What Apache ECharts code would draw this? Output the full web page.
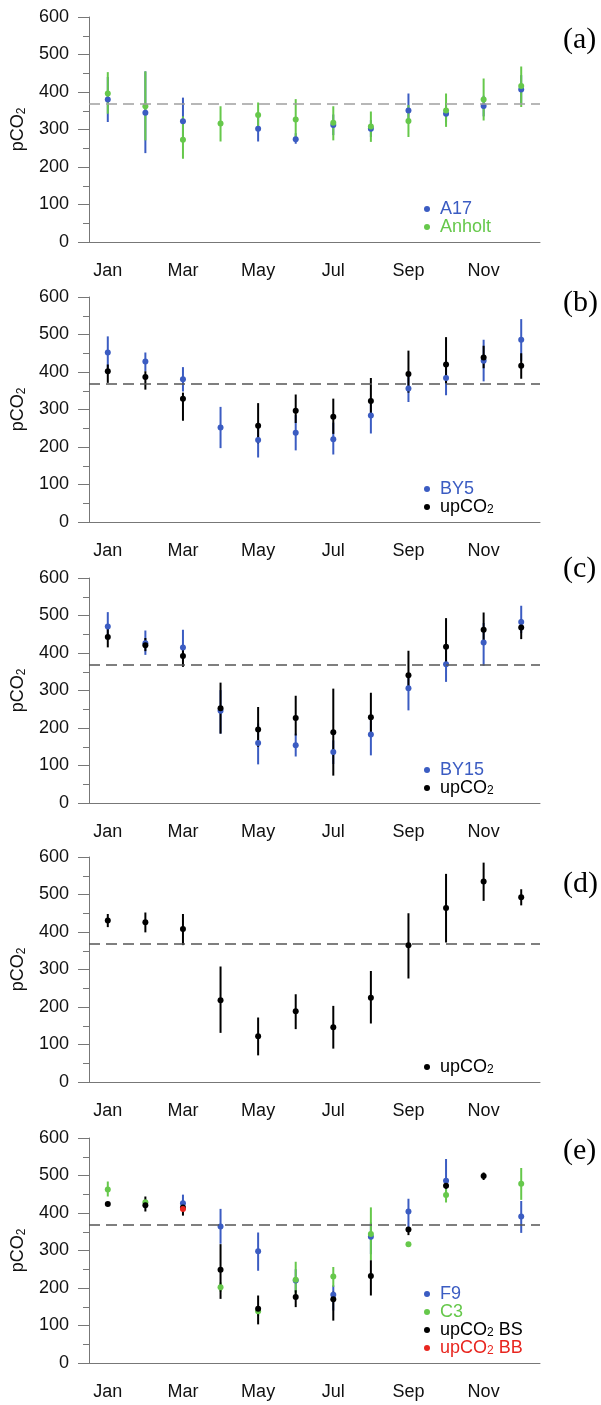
<!DOCTYPE html>
<html>
<head>
<meta charset="utf-8">
<script src="https://cdn.jsdelivr.net/npm/echarts@6/dist/echarts.min.js"></script>
<style>
html,body{margin:0;padding:0;background:#fff;}
#main{width:601px;height:1405px;}
</style>
</head>
<body>
<div id="main"></div>
<script>
var months=['Jan','Feb','Mar','Apr','May','Jun','Jul','Aug','Sep','Oct','Nov','Dec'];
var yTicks=[0,100,200,300,400,500,600];
var refLevel=370;
var panelLabels=['(a)','(b)','(c)','(d)','(e)'];

// (a)
var a17=[380,345,322,null,302,274,312,302,351,342,363,407];
var a17Lo=[320,237,270,null,268,262,285,280,315,318,335,370];
var a17Hi=[440,455,385,null,335,290,340,325,396,370,390,445];
var anholt=[396,362,273,316,339,327,318,308,323,351,380,416];
var anholtLo=[342,271,222,268,300,274,271,267,280,307,324,360];
var anholtHi=[453,455,335,362,372,381,362,348,365,396,436,468];

// (b)
var by5=[452,428,381,252,219,238,221,284,356,384,430,486];
var by5Lo=[410,402,348,197,172,191,180,236,320,338,375,430];
var by5Hi=[495,452,413,307,265,285,265,330,395,420,486,541];
var upB=[402,387,329,null,257,297,281,323,395,420,439,417];
var upBLo=[371,353,270,null,210,264,235,285,345,370,410,382];
var upBHi=[420,402,345,null,317,340,329,384,457,493,470,450];

// (c)
var by15=[471,426,415,246,160,154,136,183,306,370,428,483];
var by15Lo=[448,395,381,185,103,124,104,127,247,323,366,453];
var by15Hi=[509,460,462,301,212,185,167,230,340,410,480,526];
var upC=[443,421,392,253,196,227,189,229,341,417,462,468];
var upCLo=[415,405,363,185,150,180,73,180,300,370,430,437];
var upCHi=[470,440,420,321,256,286,305,294,406,493,508,490];

// (d)
var upD=[431,426,408,218,122,189,146,225,365,464,535,493];
var upDLo=[413,399,365,131,71,141,89,156,276,372,483,471];
var upDHi=[448,452,448,308,172,234,203,296,450,555,585,514];

// (e)
var f9=[null,null,426,364,298,220,182,337,404,486,null,391];
var f9Lo=[null,null,405,318,246,190,140,290,359,455,null,347];
var f9Hi=[null,null,449,411,348,250,207,375,438,544,null,432];
var c3=[463,429,null,202,138,222,231,344,317,448,null,478];
var c3Lo=[444,421,null,190,125,185,203,274,317,428,null,435];
var c3Hi=[484,435,null,215,150,270,256,415,317,465,null,520];
var bs=[424,421,415,249,145,176,170,232,356,473,499,null];
var bsLo=[424,404,393,171,103,149,113,180,341,465,488,null];
var bsHi=[424,444,432,317,180,194,190,274,363,481,508,null];
var bb=[null,null,411,null,null,null,null,null,null,null,null,null];
var bbLo=[null,null,411,null,null,null,null,null,null,null,null,null];
var bbHi=[null,null,411,null,null,null,null,null,null,null,null,null];

var BLUE='#3b5cc2',GREEN='#66c84b',BLACK='#000',RED='#e8261f';

var panels=[
  [{name:'A17',color:BLUE,v:a17,lo:a17Lo,hi:a17Hi},{name:'Anholt',color:GREEN,v:anholt,lo:anholtLo,hi:anholtHi}],
  [{name:'BY5',color:BLUE,v:by5,lo:by5Lo,hi:by5Hi},{name:'upCO2',color:BLACK,v:upB,lo:upBLo,hi:upBHi}],
  [{name:'BY15',color:BLUE,v:by15,lo:by15Lo,hi:by15Hi},{name:'upCO2',color:BLACK,v:upC,lo:upCLo,hi:upCHi}],
  [{name:'upCO2',color:BLACK,v:upD,lo:upDLo,hi:upDHi}],
  [{name:'F9',color:BLUE,v:f9,lo:f9Lo,hi:f9Hi},{name:'C3',color:GREEN,v:c3,lo:c3Lo,hi:c3Hi},
   {name:'upCO2 BS',color:BLACK,v:bs,lo:bsLo,hi:bsHi},{name:'upCO2 BB',color:RED,v:bb,lo:bbLo,hi:bbHi}]
];

var tops=[17,297,578,857,1138];
var labelY=[41,304,570,885,1152];
var dashColor=['#a0a0a0','#555','#555','#555','#555'];
var FONT='Liberation Sans';
var axisGrey='#777';

var grids=[],xAxes=[],yAxes=[],series=[],legends=[],graphics=[];

function subRich(){
  return {
    n:{fontFamily:FONT,fontSize:18,lineHeight:20},
    s:{fontFamily:FONT,fontSize:12,lineHeight:12,verticalAlign:'bottom'}
  };
}

function errorBars(p,s){
  var d=[];
  for(var i=0;i<s.v.length;i++){
    if(s.v[i]!=null) d.push([i,s.lo[i],s.hi[i]]);
  }
  return {
    type:'custom',xAxisIndex:p,yAxisIndex:p,z:2,silent:true,
    data:d,
    renderItem:function(params,api){
      var a=api.coord([api.value(0),api.value(1)]);
      var b=api.coord([api.value(0),api.value(2)]);
      return {type:'line',shape:{x1:a[0],y1:a[1],x2:b[0],y2:b[1]},
        style:{stroke:s.color,lineWidth:2}};
    }
  };
}

for(var p=0;p<panels.length;p++){
  grids.push({left:89,width:451,top:tops[p],height:225,show:false});
  xAxes.push({
    type:'category',gridIndex:p,data:months,boundaryGap:true,
    axisLine:{lineStyle:{color:axisGrey,width:1}},
    axisTick:{interval:0,length:11,lineStyle:{color:axisGrey}},
    axisLabel:{interval:1,fontSize:18,color:'#111',margin:20,fontFamily:FONT},
    splitLine:{show:false}
  });
  yAxes.push({
    type:'value',gridIndex:p,min:yTicks[0],max:yTicks[yTicks.length-1],interval:100,
    name:'{n|pCO}{s|2}',nameLocation:'middle',nameGap:54,nameRotate:90,
    nameTextStyle:{color:'#111',rich:subRich()},
    axisLine:{show:true,lineStyle:{color:axisGrey,width:1}},
    axisTick:{show:true,length:11,lineStyle:{color:axisGrey}},
    minorTick:{show:true,splitNumber:2,length:6,lineStyle:{color:axisGrey}},
    axisLabel:{fontSize:18,color:'#111',margin:20,fontFamily:FONT},
    splitLine:{show:false}
  });
  var list=panels[p];
  var legData=[];
  for(var k=0;k<list.length;k++){
    series.push(errorBars(p,list[k]));
  }
  for(var k=0;k<list.length;k++){
    var s=list[k];
    var pts=[];
    for(var i=0;i<s.v.length;i++){ if(s.v[i]!=null) pts.push([i,s.v[i]]); }
    var sc={
      type:'scatter',name:s.name,xAxisIndex:p,yAxisIndex:p,z:3,
      symbolSize:6,itemStyle:{color:s.color,opacity:1},data:pts,silent:true
    };
    if(k==0){
      sc.markLine={silent:true,symbol:'none',label:{show:false},
        lineStyle:{color:dashColor[p],type:[11,6],width:1.5},
        data:[{yAxis:refLevel}]};
    }
    series.push(sc);
    legData.push({name:s.name,textStyle:{color:s.color}});
  }
  legends.push({
    orient:'vertical',left:419,top:tops[p]+205-9-18*(list.length-1),
    itemWidth:16,itemHeight:6,itemGap:0,icon:'circle',
    selectedMode:false,data:legData,
    textStyle:{fontSize:18,lineHeight:18,fontFamily:FONT,
      rich:{s:{fontFamily:FONT,fontSize:12,lineHeight:12,verticalAlign:'bottom'}}},
    formatter:function(name){return name.replace('CO2','CO{s|2}');}
  });
  graphics.push({type:'text',left:563,top:labelY[p]-16,
    style:{text:panelLabels[p],font:'30px "Liberation Serif"',fill:'#000'}});
}

var chart=echarts.init(document.getElementById('main'),null,{renderer:'canvas'});
chart.setOption({
  animation:false,
  textStyle:{fontFamily:FONT},
  grid:grids,xAxis:xAxes,yAxis:yAxes,legend:legends,series:series,graphic:graphics
});
</script>
</body>
</html>
